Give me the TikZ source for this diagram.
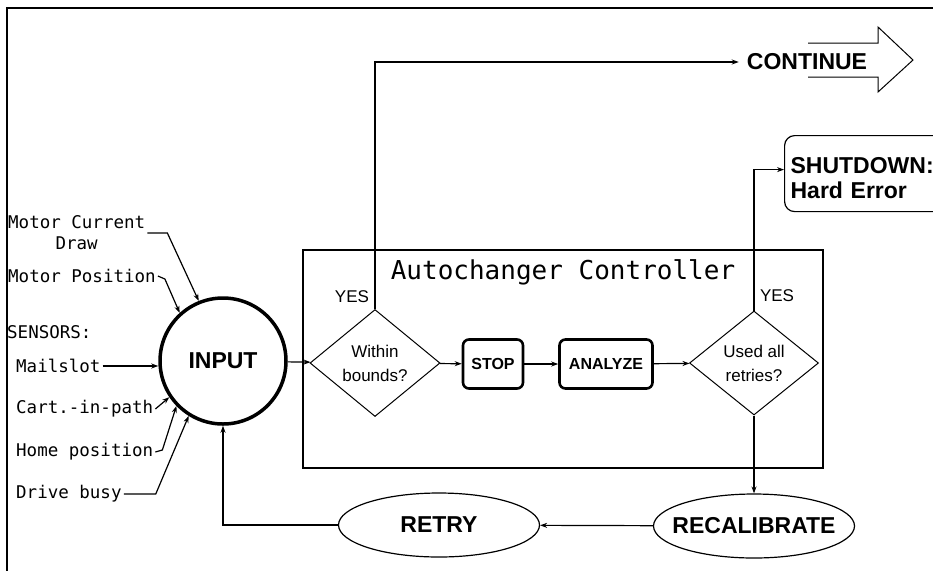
\documentclass[tikz,border=0pt]{standalone}
\usepackage{fontspec}
\setmainfont{Liberation Sans}
\newfontfamily\plotterfont{DejaVu Sans Mono}
\usepackage{tikz}
\usetikzlibrary{arrows.meta,positioning,calc,shapes.geometric}

\tikzset{
  flow/.style={line width=1.2pt,-{Stealth[length=7pt,width=5pt]}},
  bigword/.style={font=\fontsize{23}{25}\selectfont\bfseries},
  decision/.style={diamond,draw,line width=1pt,inner sep=0pt,aspect=1.2,
    align=center,font=\fontsize{17}{24}\selectfont},
  stepbox/.style={rectangle,rounded corners=6pt,draw,line width=2.6pt,
    inner sep=0pt,minimum height=49pt,font=\fontsize{16}{18}\selectfont\bfseries},
  oval/.style={ellipse,draw,line width=1.2pt,inner sep=0pt,minimum width=201pt,
    minimum height=64pt,font=\fontsize{23}{25}\selectfont\bfseries},
  sensor/.style={font=\plotterfont\fontsize{17.5}{21}\selectfont,inner sep=2pt,
    align=center,anchor=west},
  yesword/.style={font=\fontsize{17}{20}\selectfont,inner sep=1pt},
}

\begin{document}
\begin{tikzpicture}[x=1pt,y=-1pt]
  \clip (0,0) rectangle (933,571);
  % frame
  \draw[line width=2pt] (933,8) -- (7,8) -- (7,571);
  % controller
  \draw[line width=1.3pt] (303,250) rectangle (823,468);
  \node[font=\plotterfont\fontsize{26}{28}\selectfont] (ctrl) at (563,272)
    {Autochanger Controller};
  \node[circle,draw,line width=3.5pt,minimum size=126pt,inner sep=0pt,bigword]
    (input) at (223,361) {INPUT};
  \node[decision,minimum width=130pt,minimum height=107pt] (within) at (375,363)
    {Within\\bounds?};
  \node[stepbox,minimum width=60pt] (stop) at (493,364) {STOP};
  \node[stepbox,minimum width=93pt] (analyze) at (606,364) {ANALYZE};
  \node[decision,minimum width=129pt,minimum height=104pt] (used) at (754,363)
    {Used all\\retries?};
  \node[yesword] (yesa) at (352,297) {YES};
  \node[yesword] (yesb) at (777,296) {YES};
  \node[oval] (retry) at (439,525) {RETRY};
  \node[oval,inner xsep=-12pt] (recal) at (754,526) {RECALIBRATE};
  % outcomes
  \node[bigword,inner xsep=8pt] (cont) at (807,62) {CONTINUE};
  \draw[line width=1pt] (808,43) -- (878,43) -- (878,27) -- (913,60)
    -- (878,92) -- (878,77) -- (808,77);
  \node[draw,rounded corners=10pt,line width=1.2pt,anchor=north west,
    minimum height=76pt,text width=200pt,text height=25pt,align=left,
    inner xsep=6pt,font=\fontsize{23}{25}\selectfont\bfseries] (shut)
    at (784,135) {SHUTDOWN:\\Hard Error};
  % sensors
  \node[sensor] (mcur) at (6,233) {Motor Current\\Draw};
  \node[sensor] (mpos) at (6,276) {Motor Position};
  \node[sensor] (sens) at (5,332) {SENSORS:};
  \node[sensor] (mail) at (14,366) {Mailslot};
  \node[sensor] (cart) at (14,409) {Cart.-in-path};
  \node[sensor] (home) at (14,452) {Home position};
  \node[sensor] (drive) at (14,494) {Drive busy};
  \draw[flow] (mcur.east) -- ++(20,0) -- (input.112);
  \draw[flow] (mpos.east) -- ++(7,3) -- (input.132);
  \draw[flow] (mail.east) -- (mail.east -| input.west);
  \draw[flow] (cart.east) -- (input.214);
  \draw[flow] (home.east) -- ++(7,-2) -- (input.224);
  \draw[flow] (drive.east) -- ++(32,0) -- (input.238);
  % main flow
  \draw[flow] (input) -- (within);
  \draw[flow] (within) -- (stop);
  \draw[flow] (stop) -- (analyze);
  \draw[flow] (analyze) -- (used);
  \draw[flow] (within.north) |- (cont.west);
  \draw[flow] (used.north) |- ([yshift=4pt]shut.west);
  \draw[flow] (used.south) -- (used.south |- recal.north);
  \draw[flow] (recal) -- (retry);
  \draw[flow] (retry.west) -| (input.south);
\end{tikzpicture}
\end{document}
